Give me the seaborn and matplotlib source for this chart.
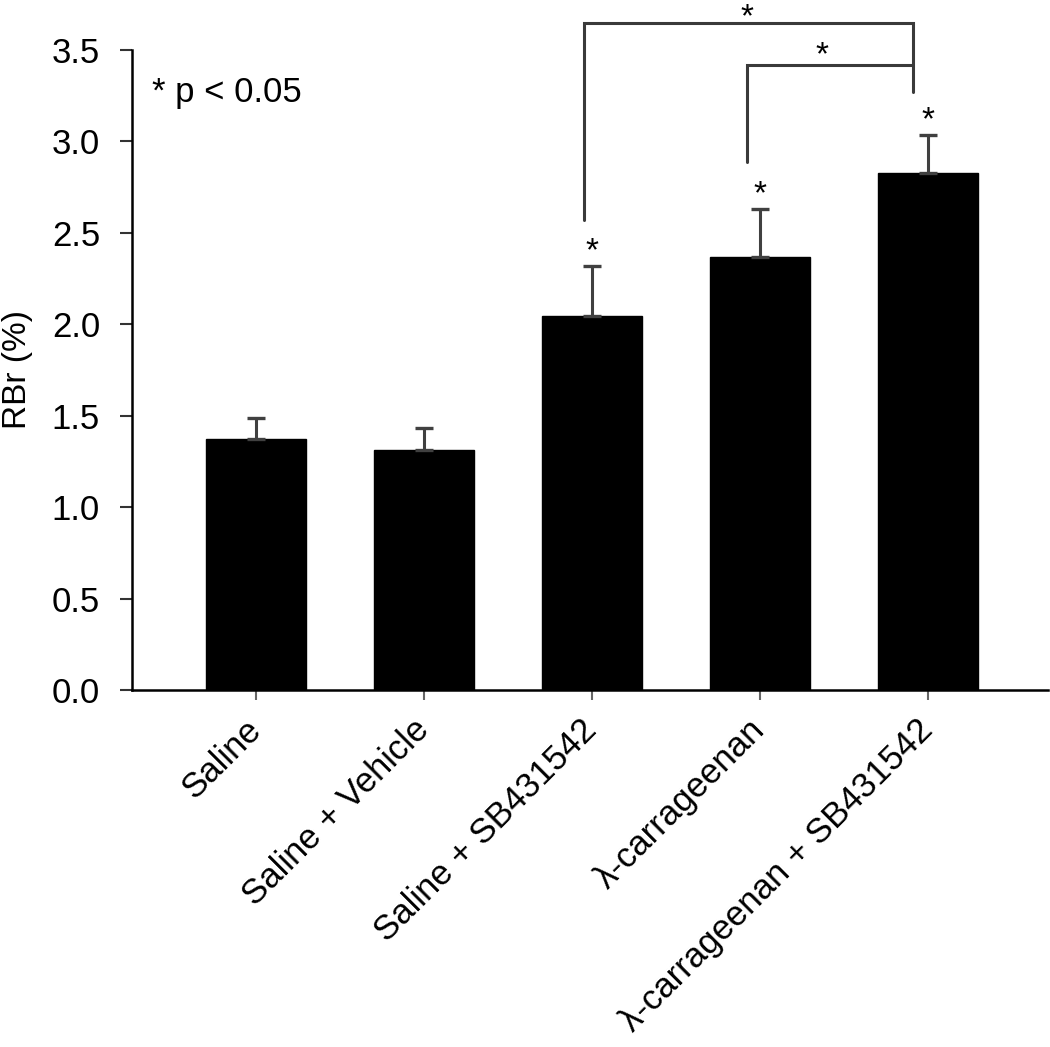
import matplotlib
matplotlib.use("Agg")
import matplotlib.pyplot as plt
import seaborn as sns
import pandas as pd
import numpy as np

categories = ["Saline", "Saline + Vehicle", "Saline + SB431542",
              "λ-carrageenan", "λ-carrageenan + SB431542"]
means = [1.37, 1.31, 2.045, 2.37, 2.825]
sems = [0.12, 0.12, 0.275, 0.26, 0.21]
bar_stars = ["", "", "*", "*", "*"]
y_ticks = [0.0, 0.5, 1.0, 1.5, 2.0, 2.5, 3.0, 3.5]

sns.set_style("ticks")
plt.rcParams['font.family'] = ['Liberation Sans', 'DejaVu Sans']
plt.rcParams['text.color'] = 'black'
plt.rcParams['xtick.labelcolor'] = 'black'
plt.rcParams['ytick.labelcolor'] = 'black'
plt.rcParams['axes.labelcolor'] = 'black'

df = pd.DataFrame({"group": categories, "RBr": means})

fig = plt.figure(figsize=(10.5, 10.47), dpi=100)
ax = fig.add_axes([0.1257, 0.341, 0.8724, 0.6113])

sns.barplot(data=df, x="group", y="RBr", color="black", width=0.6,
            edgecolor="black", ax=ax, errorbar=None, saturation=1)
x = np.arange(len(categories))
ax.errorbar(x, means, yerr=[np.zeros(len(means)), sems], fmt="none",
            ecolor="#404040", elinewidth=2.2, capsize=6.5, capthick=2.4, zorder=1)

ax.set_ylim(0, 3.5)
ax.set_xlim(-0.738, 4.714)
ax.set_yticks(y_ticks)
ax.set_yticklabels([f"{v:.1f}" for v in y_ticks], fontsize=25)
ax.set_xticks(x)
ax.set_xticklabels(categories, fontsize=25, rotation=45, ha="right",
                   va="center", rotation_mode="anchor")
ax.tick_params(axis="y", direction="out", length=9, width=1.5, pad=14,
               color="#333333")
ax.tick_params(axis="x", direction="out", length=7, width=1.5, pad=18,
               color="#666666")
ax.set_xlabel("")
ax.set_ylabel("RBr (%)", fontsize=24)
ax.yaxis.set_label_coords(-0.108, 0.5)
for s in ["top", "right"]:
    ax.spines[s].set_visible(False)
for s in ["left", "bottom"]:
    ax.spines[s].set_linewidth(1.8)
    ax.spines[s].set_color("black")

# significance stars above bars
for xi, m, e, st in zip(x, means, sems, bar_stars):
    if st:
        ax.text(xi, m + e + 0.03, st, ha="center", va="baseline", fontsize=24)

ax.text(-0.62, 3.27, "* p < 0.05", ha="left", va="center", fontsize=25)

# brackets
bc = "#3a3a3a"
ax.plot([1.95, 1.95, 3.91, 3.91], [2.57, 3.647, 3.647, 3.27], color=bc,
        lw=2.2, clip_on=False, solid_joinstyle="miter")
ax.plot([2.92, 2.92, 3.91], [2.887, 3.417, 3.417], color=bc, lw=2.2,
        clip_on=False, solid_joinstyle="miter")
ax.text(2.92, 3.63, "*", ha="center", va="baseline", fontsize=24, clip_on=False)
ax.text(3.37, 3.423, "*", ha="center", va="baseline", fontsize=24, clip_on=False)

fig.savefig("out.png", dpi=100)
